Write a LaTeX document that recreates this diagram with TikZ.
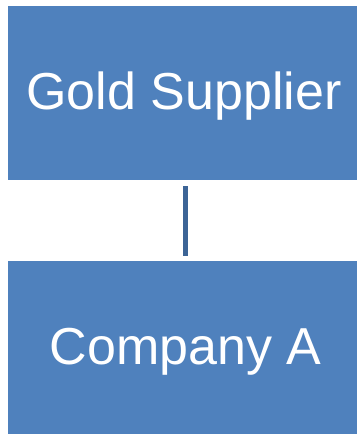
\documentclass[tikz,border=0pt]{standalone}
\usepackage{fontspec}
\setmainfont{Liberation Sans}
\definecolor{boxblue}{HTML}{4F81BD}
\definecolor{lineblue}{HTML}{3C6496}
\begin{document}
\begin{tikzpicture}[x=1pt,y=-1pt,
  orgbox/.style={fill=boxblue,draw=none,inner sep=0pt,outer sep=0pt,minimum width=349pt},
  orgtext/.style={text=white,font=\fontsize{52}{60}\selectfont,inner sep=0pt,anchor=base},
  link/.style={draw=lineblue,line width=5pt}]
\useasboundingbox[fill=white] (0,0) rectangle (357,434);
\node[orgbox,minimum height=174pt] (goldbox) at (182.5,93) {};
\node[orgtext] (gold) at (184,109) {Gold Supplier};
\node[orgbox,minimum height=173pt] (compabox) at (182.5,347.5) {};
\node[orgtext] (compa) at (185.5,364) {Company A};
\draw[link,shorten <=6pt,shorten >=5pt] (goldbox.south -| 185,0) -- (compabox.north -| 185,0);
\end{tikzpicture}
\end{document}
